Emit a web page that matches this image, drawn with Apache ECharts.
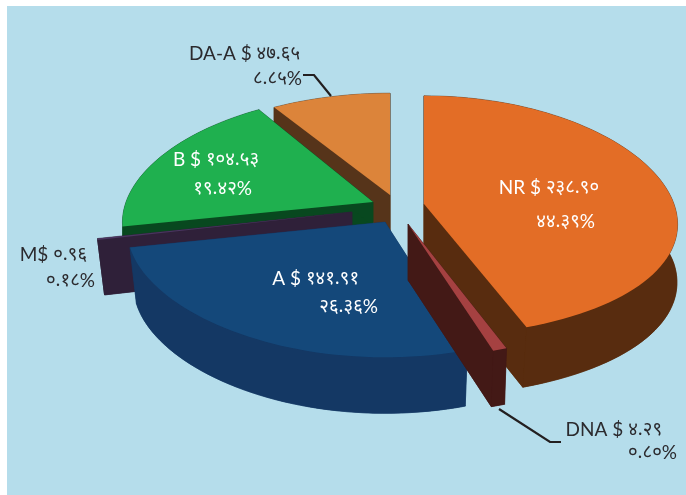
<!DOCTYPE html>
<html><head><meta charset="utf-8">
<style>html,body{margin:0;padding:0;background:#fff}#c{width:686px;height:495px}</style>
<script src="https://cdn.jsdelivr.net/npm/echarts@6/dist/echarts.min.js"></script>
</head><body><div id="c"></div>
<script>
var categories = ['NR', 'DNA', 'A', 'M', 'B', 'DA-A'];
var values = [238.90, 4.29, 141.91, 0.96, 104.53, 47.65];
var labelNames = ['NR $ २३८.९०', 'DNA $ ४.२९', 'A $ १४१.९१', 'M$ ०.९६', 'B $ १०४.५३', 'DA-A $ ४७.६५'];
var labelPercents = ['४४.३९%', '०.८०%', '२६.३६%', '०.१८%', '१९.४२%', '८.८५%'];

var styles = {
  'NR':   {top:'#E36D26', wall:'#582C0F', cx:424, cy:204, rx:250, ry:119, px:.168, py:.10, depth:60, shift:-4, taper:1, order:2},
  'DNA':  {top:'#A54141', wall:'#431916', cx:408, cy:224, rx:240, ry:120, px:.168, py:.10, depth:56, shift:-2, taper:1, order:5},
  'A':    {top:'#14487A', wall:'#143864', cx:385, cy:222, rx:257, ry:115, px:.0725, py:.15, depth:56, shift:0, taper:.975, order:4},
  'M':    {top:'#4A3560', wall:'#2F2039', cx:352, cy:212, rx:251, ry:127, px:.168, py:.10, depth:55, shift:0, taper:.973, order:3},
  'B':    {top:'#1FB04F', wall:'#08481F', cx:373, cy:202, rx:247, ry:118, px:.168, py:.10, depth:24, shift:0, taper:1, order:1},
  'DA-A': {top:'#DC843A', wall:'#56341A', cx:390, cy:195, rx:251, ry:112, px:.168, py:.10, depth:40, shift:0, taper:1, order:0}
};
var labelBoxes = {
  'NR':   {x:599, y1:188, x2:595, y2:222, color:'#fff'},
  'DNA':  {x:662, y1:430, x2:677, y2:453, color:'#2B2A2E'},
  'A':    {x:359, y1:279, x2:378, y2:307, color:'#fff'},
  'M':    {x:87,  y1:255, x2:95,  y2:281, color:'#2B2A2E'},
  'B':    {x:259, y1:160, x2:252, y2:189, color:'#fff'},
  'DA-A': {x:300, y1:54,  x2:302, y2:79,  color:'#2B2A2E'}
};
var total = values.reduce(function(a,b){return a+b;},0);

function project(s, deg){
  var t = deg*Math.PI/180, x = Math.sin(t), y = Math.cos(t);
  return [s.cx + s.rx*x/(1+s.px*y), s.cy - s.ry*y/(1+s.py*y), y];
}
function arc(s, a0, a1){
  var pts = [], n = Math.max(2, Math.ceil(Math.abs(a1-a0)/2));
  for (var i=0;i<=n;i++) pts.push(project(s, a0+(a1-a0)*i/n));
  return pts;
}
function lower(s, p){
  var front = p[2] < 0 ? -p[2] : 0;
  return [s.cx + (p[0]-s.cx)*s.taper + s.shift*front, p[1]+s.depth];
}
function richText(str){
  return str.replace(/[०-९.]+|[^०-९.]+/g, function(run){
    return /[०-९]/.test(run) ? '{d|'+run+'}' : '{l|'+run+'}';
  });
}
var richStyles = {
  l:{fontFamily:'Lato,"Open Sans",sans-serif', fontSize:19},
  d:{fontFamily:'"Noto Sans","Open Sans",sans-serif', fontSize:18.5}
};
var seriesData = values.map(function(v,i){
  var before = values.slice(0,i).reduce(function(a,b){return a+b;},0);
  return {value:[v, before, i], name:categories[i]};
});

var option = {
  animation:false,
  backgroundColor:'#fff',
  graphic:[
    {type:'rect', z:-1, silent:true, shape:{x:7,y:6,width:679,height:489}, style:{fill:'#B5DDEB'}},
    {type:'polyline', z:50, shape:{points:[[303,75],[314,75],[331,96]]}, style:{stroke:'#231F20',lineWidth:2.2,fill:null}},
    {type:'polyline', z:50, shape:{points:[[499,409],[550,442],[561,442]]}, style:{stroke:'#231F20',lineWidth:2.2,fill:null}}
  ],
  series:[{
    type:'custom',
    coordinateSystem:'none',
    silent:true,
    data:seriesData,
    renderItem:function(params, api){
      var v = api.value(0), before = api.value(1), i = api.value(2);
      var cat = categories[i], s = styles[cat];
      var a0 = before/total*360, a1 = (before+v)/total*360;
      var rim = arc(s, a0, a1);
      var apex = [s.cx, s.cy, 0];
      var flat = function(p){return [p[0],p[1]];};
      var low = function(p){return lower(s,p);};
      var lowRim = rim.map(low), lowApex = low(apex);
      var topRim = rim.map(flat), first = topRim[0], last = topRim[topRim.length-1];
      var a2 = [apex[0],apex[1]];
      var base = s.order*10;
      var wallStyle = {fill:s.wall, stroke:s.wall, lineWidth:0.5};
      var children = [
        {type:'polygon', z2:base, shape:{points:[lowApex].concat(lowRim)}, style:wallStyle},
        {type:'polygon', z2:base, shape:{points:[a2,first,lowRim[0],lowApex]}, style:wallStyle},
        {type:'polygon', z2:base, shape:{points:[a2,last,lowRim[lowRim.length-1],lowApex]}, style:wallStyle},
        {type:'polygon', z2:base, shape:{points:topRim.concat(lowRim.slice().reverse())}, style:wallStyle},
        {type:'polygon', z2:base+2, shape:{points:[a2].concat(topRim)}, style:{fill:s.top}}
      ];
      var b = labelBoxes[cat];
      children.push({type:'text', z2:100, style:{text:richText(labelNames[i]), rich:richStyles, x:b.x, y:b.y1, align:'right', verticalAlign:'middle', fill:b.color}});
      children.push({type:'text', z2:100, style:{text:richText(labelPercents[i]), rich:richStyles, x:b.x2, y:b.y2, align:'right', verticalAlign:'middle', fill:b.color}});
      return {type:'group', children:children};
    }
  }]
};
echarts.init(document.getElementById('c'), null, {renderer:'canvas'}).setOption(option);
</script></body></html>
